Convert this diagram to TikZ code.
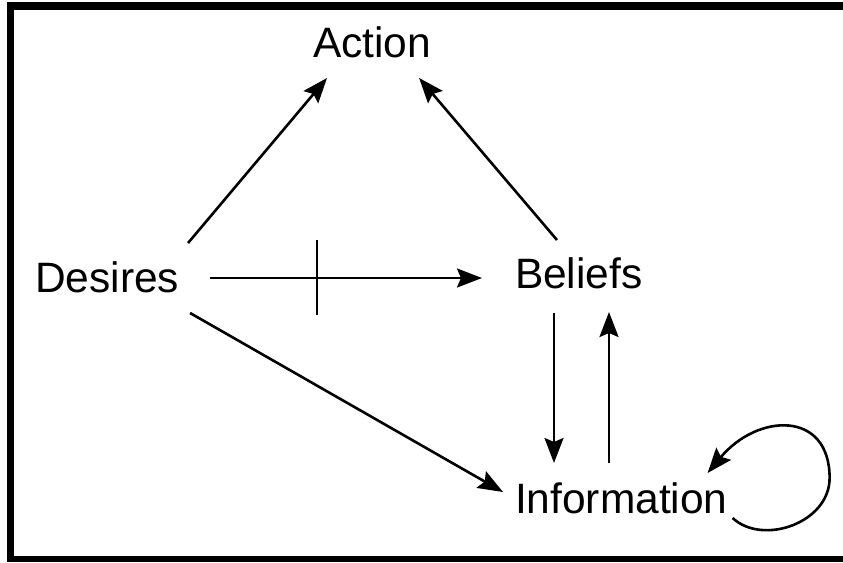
\documentclass[tikz,border=0pt]{standalone}
\usepackage{fontspec}
\setmainfont{Liberation Sans}
\usetikzlibrary{arrows.meta}
\begin{document}
\begin{tikzpicture}[x=1pt,y=-1pt,
  lbl/.style={inner sep=0pt, outer sep=0pt, anchor=base west, font=\fontsize{42.5}{50}\selectfont},
  arr/.style={line width=2.6pt, -{Stealth[length=25pt,width=19pt,inset=4pt]}},
  tick/.style={line width=2.2pt}]
\useasboundingbox (0,0) rectangle (843,562);
% frame (scan border)
\fill[black] (7,2) rectangle (14,562);
\fill[black] (7,2) rectangle (843,10);
\fill[black] (7,556) rectangle (843,562);
% nodes
\node[lbl] (action) at (313,57) {Action};
\node[lbl] (desires) at (35,292) {Desires};
\node[lbl] (beliefs) at (515,288) {Beliefs};
\node[lbl] (info) at (515,513) {Information};
% connectors
\draw[arr] ([shift={(9,-49)}]desires.base east) -- ([shift={(14,21)}]action.base west);
\draw[arr] ([shift={(42,-48)}]beliefs.base west) -- ([shift={(-12,21)}]action.base east);
\draw[arr] ([shift={(31,-14)}]desires.base east) -- ([shift={(-33,-10)}]beliefs.base west);
\draw[tick] ([shift={(138,-52)}]desires.base east) -- ++(0,75);
\draw[arr] ([shift={(11,21)}]desires.base east) -- ([shift={(-12,-21)}]info.base west);
\draw[arr] ([shift={(39,25)}]beliefs.base west) -- ([shift={(39,-50)}]info.base west);
\draw[arr] ([shift={(94,-50)}]info.base west) -- ([shift={(94,24)}]beliefs.base west);
\draw[arr] ([shift={(5,5)}]info.base east) .. controls +(30,28) and +(0,45) .. ++(97,-40)
  .. controls +(0,-68) and +(50,-60) .. ([shift={(-20,-40)}]info.base east);
\end{tikzpicture}
\end{document}
